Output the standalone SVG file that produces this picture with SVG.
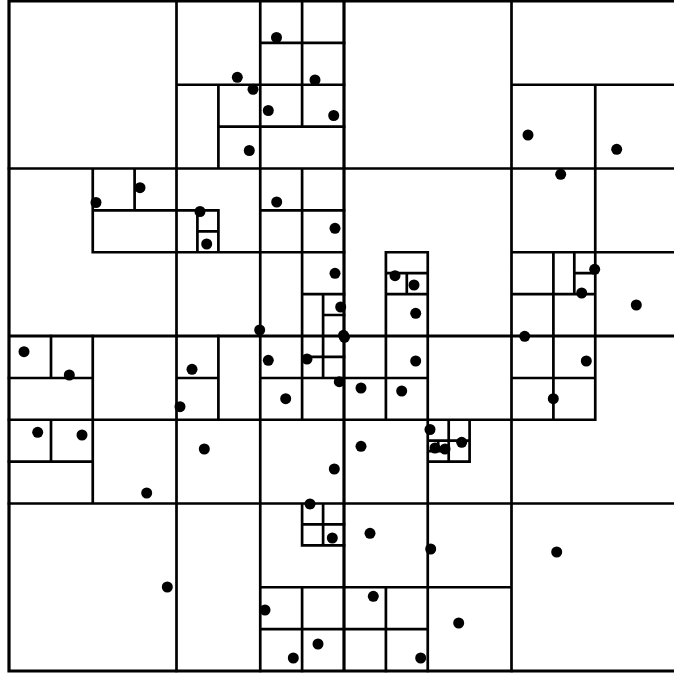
<svg xmlns="http://www.w3.org/2000/svg" width="674" height="673" viewBox="0 0 674 673">
<style>
.g{fill:none;stroke:#000;stroke-width:2.7;stroke-linecap:square}
.m{fill:none;stroke:#000;stroke-width:3.2;stroke-linecap:square}
.p{fill:#000}
</style>
<rect x="0" y="0" width="674" height="673" fill="#fff"/>
<g id="cells">
<path class="m" d="M9 1V671M679 1V671M9 1H679M9 671H679M344 1V671M9 336H679"/>
<path class="g" d="
M51 336V378M51 419.75V461.6
M92.75 168.5V252.25M92.75 336V503.5
M134.6 168.5V210.4
M176.5 1V671
M197.4 210.4V252.25
M218.4 84.75V168.5M218.4 210.4V252.25M218.4 336V419.75
M260.25 1V671
M302.1 1V126.6M302.1 168.5V419.75M302.1 503.5V545.4M302.1 587.25V671
M323.1 294.1V378M323.1 503.5V545.4
M385.9 252.25V419.75M385.9 587.25V671
M406.8 273.2V294.1
M427.75 252.25V671
M438.2 440.7V451.2
M448.7 419.75V461.6
M469.6 419.75V461.6
M511.5 1V671
M553.4 252.25V419.75
M574.3 252.25V294.1
M595.25 84.75V419.75
M260.25 42.9H344
M176.5 84.75H344M511.5 84.75H679
M218.4 126.6H344
M9 168.5H679
M92.75 210.4H218.4M260.25 210.4H344
M197.4 231.3H218.4
M92.75 252.25H344M385.9 252.25H427.75M511.5 252.25H679
M385.9 273.2H427.75M574.3 273.2H595.25
M302.1 294.1H344M385.9 294.1H427.75M511.5 294.1H595.25
M323.1 315H344
M302.1 356.9H344
M9 378H92.75M176.5 378H218.4M260.25 378H427.75M511.5 378H595.25
M9 419.75H595.25
M427.75 440.7H469.6
M427.75 451.2H448.7
M9 461.6H92.75M427.75 461.6H469.6
M9 503.5H679
M302.1 524.4H344
M302.1 545.4H344
M260.25 587.25H511.5
M260.25 629.1H427.75"/>
</g>
<g id="points" class="p">
<circle cx="276.5" cy="37.5" r="5.5"/>
<circle cx="237.3" cy="77.3" r="5.5"/>
<circle cx="253" cy="89.3" r="5.5"/>
<circle cx="315" cy="80" r="5.5"/>
<circle cx="268.3" cy="110.5" r="5.5"/>
<circle cx="333.7" cy="115.5" r="5.5"/>
<circle cx="249.3" cy="150.5" r="5.5"/>
<circle cx="528" cy="135" r="5.5"/>
<circle cx="616.7" cy="149.3" r="5.5"/>
<circle cx="560.7" cy="174.3" r="5.5"/>
<circle cx="140" cy="187.7" r="5.5"/>
<circle cx="96" cy="202.5" r="5.5"/>
<circle cx="200" cy="211.5" r="5.5"/>
<circle cx="206.7" cy="244" r="5.5"/>
<circle cx="276.7" cy="202" r="5.5"/>
<circle cx="335" cy="228.3" r="5.5"/>
<circle cx="335" cy="273.3" r="5.5"/>
<circle cx="395" cy="275.7" r="5.5"/>
<circle cx="414" cy="285" r="5.5"/>
<circle cx="594.7" cy="269.3" r="5.5"/>
<circle cx="581.7" cy="293" r="5.5"/>
<circle cx="636.3" cy="305" r="5.5"/>
<circle cx="340.7" cy="307" r="5.5"/>
<circle cx="415.7" cy="313.3" r="5.5"/>
<circle cx="259.7" cy="330" r="5.5"/>
<circle cx="343.5" cy="335.3" r="5.5"/>
<circle cx="344.5" cy="337.3" r="5.5"/>
<circle cx="524.7" cy="336.3" r="5.5"/>
<circle cx="24" cy="351.7" r="5.5"/>
<circle cx="69.3" cy="375" r="5.5"/>
<circle cx="192" cy="369.3" r="5.5"/>
<circle cx="268.3" cy="360.3" r="5.5"/>
<circle cx="307" cy="359" r="5.5"/>
<circle cx="415.7" cy="361" r="5.5"/>
<circle cx="586.3" cy="361" r="5.5"/>
<circle cx="339.3" cy="381.7" r="5.5"/>
<circle cx="361" cy="388" r="5.5"/>
<circle cx="401.7" cy="391" r="5.5"/>
<circle cx="285.7" cy="398.7" r="5.5"/>
<circle cx="553.3" cy="398.7" r="5.5"/>
<circle cx="180" cy="406.7" r="5.5"/>
<circle cx="37.7" cy="432.3" r="5.5"/>
<circle cx="82" cy="435" r="5.5"/>
<circle cx="430" cy="429.5" r="5.5"/>
<circle cx="461.7" cy="442.3" r="5.5"/>
<circle cx="435" cy="448" r="5.5"/>
<circle cx="445" cy="449" r="5.5"/>
<circle cx="204.3" cy="449" r="5.5"/>
<circle cx="361" cy="446.3" r="5.5"/>
<circle cx="334.3" cy="469" r="5.5"/>
<circle cx="146.7" cy="493" r="5.5"/>
<circle cx="310" cy="504" r="5.5"/>
<circle cx="332.3" cy="538" r="5.5"/>
<circle cx="370" cy="533.3" r="5.5"/>
<circle cx="430.7" cy="549" r="5.5"/>
<circle cx="556.7" cy="552" r="5.5"/>
<circle cx="167.3" cy="587" r="5.5"/>
<circle cx="265" cy="610" r="5.5"/>
<circle cx="373.3" cy="596.3" r="5.5"/>
<circle cx="458.7" cy="623" r="5.5"/>
<circle cx="318" cy="644" r="5.5"/>
<circle cx="293.3" cy="658" r="5.5"/>
<circle cx="420.7" cy="658" r="5.5"/>
</g>
</svg>
